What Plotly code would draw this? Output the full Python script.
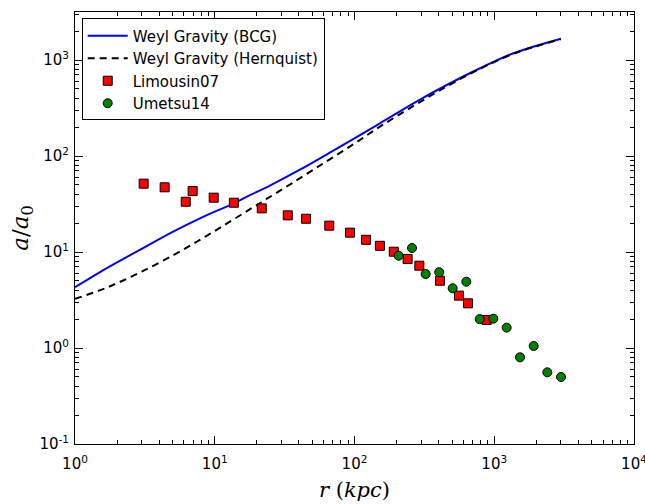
import plotly.graph_objects as go

# ---- data ----
bcg_r = [1, 1.5, 2, 3, 5, 7.84, 10, 13, 15, 18, 25, 40.7, 70, 100, 152, 264, 457, 791, 1370, 3000]
bcg_a = [4.3, 6.15, 7.8, 10.8, 16.2, 22.4, 26.3, 30.9, 34.3, 39.3, 49.5, 72.0, 113, 153, 219, 354, 549, 820, 1175, 1667]

hern_r = [1, 1.5, 2, 3, 5, 7.84, 12, 18, 23.5, 35.6, 60, 100, 152, 264, 457, 791, 1370, 3000]
hern_a = [3.25, 3.98, 4.73, 6.24, 9.2, 13.4, 19.5, 28.1, 35.7, 51.9, 84, 135, 202, 332, 530, 810, 1160, 1650]

lim_r = [3.10, 4.38, 6.20, 6.95, 9.83, 13.7, 21.7, 33.3, 45.0, 66.0, 92.9, 120.9, 152, 191, 240, 291, 409, 559, 649, 883]
lim_a = [51.5, 47.2, 33.4, 43.2, 36.8, 32.6, 28.5, 24.1, 22.2, 18.8, 15.9, 13.4, 11.6, 10.07, 8.45, 7.2, 5.02, 3.51, 2.92, 1.96]

ume_r = [207, 258, 323, 404, 504, 631, 787, 985, 1227, 1529, 1916, 2398, 3004]
ume_a = [9.15, 11.0, 5.9, 6.16, 4.19, 4.91, 2.0, 2.02, 1.63, 0.80, 1.05, 0.558, 0.499]

x_tickvals = [1, 10, 100, 1000, 10000]
x_ticktext = ["10<sup>0</sup>", "10<sup>1</sup>", "10<sup>2</sup>", "10<sup>3</sup>", "10<sup>4</sup>"]
y_tickvals = [0.1, 1, 10, 100, 1000]
y_ticktext = ["10<sup>-1</sup>", "10<sup>0</sup>", "10<sup>1</sup>", "10<sup>2</sup>", "10<sup>3</sup>"]

fig = go.Figure()
fig.add_trace(go.Scatter(x=bcg_r, y=bcg_a, mode="lines", name="Weyl Gravity (BCG)",
                         line=dict(color="#0000ff", width=2, shape="spline", smoothing=1.0)))
fig.add_trace(go.Scatter(x=hern_r, y=hern_a, mode="lines", name="Weyl Gravity (Hernquist)",
                         line=dict(color="black", width=2, dash="7px,5px", shape="spline", smoothing=1.0)))
fig.add_trace(go.Scatter(x=lim_r, y=lim_a, mode="markers", name="Limousin07",
                         marker=dict(symbol="square", size=9, color="#ff0000",
                                     line=dict(color="black", width=1))))
fig.add_trace(go.Scatter(x=ume_r, y=ume_a, mode="markers", name="Umetsu14",
                         marker=dict(symbol="circle", size=9, color="#008000",
                                     line=dict(color="black", width=1))))

axis_common = dict(type="log", showgrid=False, zeroline=False, showline=True,
                   linecolor="black", linewidth=1, mirror="allticks",
                   ticks="inside", ticklen=8, tickwidth=1, tickcolor="black",
                   ticklabeloverflow="allow", automargin=False,
                   tickfont=dict(family="DejaVu Sans", size=15, color="black"),
                   minor=dict(ticks="inside", ticklen=4, tickwidth=1, tickcolor="black",
                              dtick="D1", showgrid=False))

fig.update_xaxes(range=[0, 4], tickvals=x_tickvals, ticktext=x_ticktext,
                 ticklabelstandoff=6,
                 title=dict(text="<i>r</i> (<i>kpc</i>)", font=dict(family="DejaVu Serif", size=21, color="black"),
                            standoff=10),
                 **axis_common)
fig.update_yaxes(range=[-1, 3.5], tickvals=y_tickvals, ticktext=y_ticktext,
                 ticklabelstandoff=2,
                 title=dict(text="<i>a</i>/<i>a</i><sub>0</sub>", font=dict(family="DejaVu Serif", size=23, color="black"),
                            standoff=4),
                 **axis_common)

fig.update_layout(
    width=645, height=504,
    margin=dict(l=75, r=11, t=12, b=60),
    plot_bgcolor="white", paper_bgcolor="white",
    font=dict(family="DejaVu Sans", color="black"),
    legend=dict(x=0.012, y=0.985, xanchor="left", yanchor="top",
                bordercolor="black", borderwidth=1, bgcolor="white",
                font=dict(family="DejaVu Sans", size=15, color="black"),
                tracegroupgap=0, itemwidth=40),
    showlegend=True,
)

fig.write_html("out.html")
